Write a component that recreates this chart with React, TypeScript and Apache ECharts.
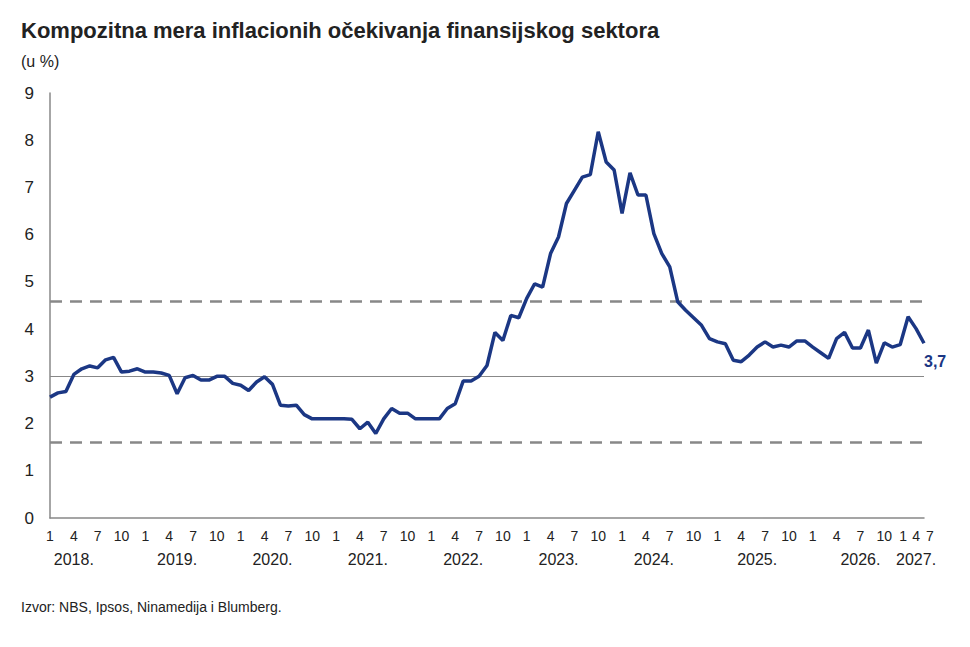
import React, { useEffect, useRef } from "react";
import * as echarts from "echarts";

const years = [2018, 2019, 2020, 2021, 2022, 2023, 2024, 2025, 2026, 2027];
const values: number[] = [
  // 2018
  2.56, 2.65, 2.68, 3.04, 3.16, 3.22, 3.18, 3.35, 3.4, 3.09, 3.11, 3.16,
  // 2019
  3.09, 3.09, 3.07, 3.02, 2.63, 2.97, 3.02, 2.92, 2.92, 3.0, 3.0, 2.85,
  // 2020
  2.81, 2.7, 2.88, 2.99, 2.83, 2.39, 2.37, 2.39, 2.19, 2.1, 2.1, 2.1,
  // 2021
  2.1, 2.1, 2.09, 1.89, 2.03, 1.79, 2.1, 2.32, 2.22, 2.22, 2.1, 2.1,
  // 2022
  2.1, 2.1, 2.32, 2.42, 2.9, 2.9, 3.0, 3.23, 3.93, 3.76, 4.29, 4.24,
  // 2023
  4.65, 4.96, 4.89, 5.6, 5.95, 6.66, 6.94, 7.22, 7.27, 8.18, 7.54, 7.37,
  // 2024
  6.45, 7.31, 6.84, 6.84, 6.02, 5.6, 5.32, 4.58, 4.4, 4.24, 4.08, 3.8,
  // 2025
  3.73, 3.69, 3.34, 3.31, 3.45, 3.62, 3.73, 3.62, 3.66, 3.62, 3.75, 3.75,
  // 2026
  3.62, 3.5, 3.38, 3.8, 3.93, 3.6, 3.6, 3.98, 3.28, 3.71, 3.62, 3.67,
  // 2027
  4.26, 4.01, 3.7,
];
const monthTicks = ["1", "4", "7", "10"];
const endTicks = ["1", "4", "7"];
const yearLabelMonth = [3, 4, 4, 4, 4, 4, 4, 5, 6, 1];
const targetCenter = 3;
const bandUpper = 4.6;
const bandLower = 1.6;
const lastLabel = "3,7";

const categories = values.map((_, i) => {
  const y = years[Math.floor(i / 12)];
  const m = (i % 12) + 1;
  return `${y}-${m}`;
});

const FONT = "'Liberation Sans', Arial, sans-serif";

export default function App() {
  const ref = useRef<HTMLDivElement>(null);
  useEffect(() => {
    document.body.style.margin = "0";
    const chart = echarts.init(ref.current!, null, { renderer: "svg" });
    const n = values.length;
    const lastYearStart = Math.floor((n - 1) / 12) * 12;
    chart.setOption({
      animation: false,
      backgroundColor: "#ffffff",
      textStyle: { fontFamily: FONT },
      title: [
        {
          text: "Kompozitna mera inflacionih očekivanja finansijskog sektora",
          left: 16,
          top: 14,
          textStyle: { fontFamily: FONT, fontSize: 22, fontWeight: "bold", color: "#222" },
        },
        {
          text: "(u %)",
          left: 16,
          top: 48,
          textStyle: { fontFamily: FONT, fontSize: 16, fontWeight: "normal", color: "#222" },
        },
        {
          text: "Izvor: NBS, Ipsos, Ninamedija i Blumberg.",
          left: 16,
          top: 595,
          textStyle: { fontFamily: FONT, fontSize: 14, fontWeight: "normal", color: "#222" },
        },
      ],
      grid: { left: 50, right: 46, top: 93, bottom: 129 },
      xAxis: [
        {
          type: "category",
          data: categories,
          boundaryGap: false,
          axisLine: { lineStyle: { color: "#888", width: 1.5 } },
          axisTick: { show: false },
          axisLabel: {
            interval: 0,
            margin: 11,
            fontSize: 14,
            color: "#222",
            fontFamily: FONT,
            rich: {
              l: { fontSize: 14, color: "#222", padding: [0, 10, 0, 0] },
              m: { fontSize: 14, color: "#222" },
              r: { fontSize: 14, color: "#222", padding: [0, 0, 0, 12] },
            },
            formatter: (_v: string, i: number) => {
              if (i >= lastYearStart) {
                const k = i - lastYearStart;
                if (k >= endTicks.length) return "";
                const st = ["l", "m", "r"][k];
                return `{${st}|${endTicks[k]}}`;
              }
              return i % 3 === 0 ? monthTicks[(i % 12) / 3] : "";
            },
          },
        },
        {
          type: "category",
          data: categories,
          boundaryGap: false,
          position: "bottom",
          offset: 25,
          axisLine: { show: false },
          axisTick: { show: false },
          axisLabel: {
            interval: 0,
            fontSize: 16,
            color: "#222",
            fontFamily: FONT,
            formatter: (_v: string, i: number) => {
              const yi = Math.floor(i / 12);
              return i % 12 === yearLabelMonth[yi] ? `${years[yi]}.` : "";
            },
          },
        },
      ],
      yAxis: {
        type: "value",
        min: 0,
        max: 9,
        interval: 1,
        splitLine: { show: false },
        axisLine: { show: true, lineStyle: { color: "#888", width: 1.5 } },
        axisTick: { show: false },
        axisLabel: { fontSize: 17, color: "#222", margin: 16, fontFamily: FONT },
      },
      series: [
        {
          type: "line",
          data: values,
          showSymbol: false,
          symbol: "none",
          lineStyle: { color: "#1b3784", width: 3.5 },
          z: 5,
          endLabel: {
            show: true,
            formatter: lastLabel,
            offset: [-8, 18],
            fontSize: 16,
            fontWeight: "bold",
            color: "#1b3784",
            fontFamily: FONT,
          },
          markLine: {
            silent: true,
            symbol: "none",
            label: { show: false },
            data: [
              { yAxis: bandUpper, lineStyle: { color: "#888", type: [12, 8], width: 2.5 } },
              { yAxis: bandLower, lineStyle: { color: "#888", type: [12, 8], width: 2.5 } },
              { yAxis: targetCenter, lineStyle: { color: "#888", type: "solid", width: 1.2 } },
            ],
          },
        },
      ],
    });
    return () => chart.dispose();
  }, []);
  return <div ref={ref} style={{ width: 970, height: 647 }} />;
}
